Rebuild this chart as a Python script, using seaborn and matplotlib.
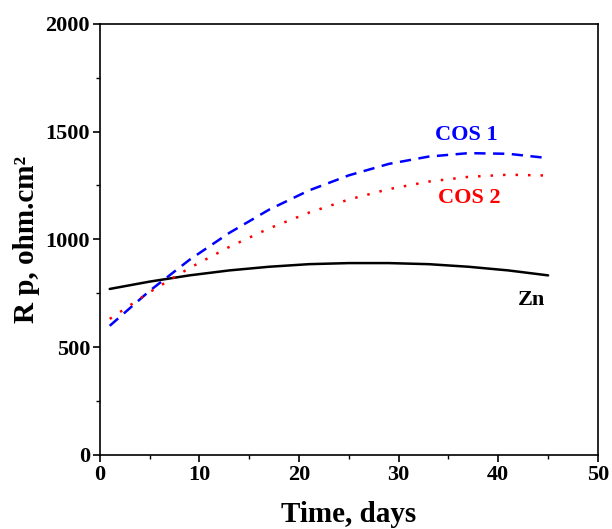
import matplotlib
matplotlib.use("Agg")
import matplotlib.pyplot as plt
import seaborn as sns
import pandas as pd
from matplotlib.ticker import MultipleLocator

# Data
days = [1, 5, 9, 13, 17, 21, 25, 29, 33, 37, 41, 45]
zn = [770, 804, 833, 856, 873, 885, 890, 890, 885, 873, 856, 833]
cos1 = [599, 761, 905, 1030, 1138, 1227, 1297, 1350, 1384, 1400, 1397, 1377]
cos2 = [631, 755, 867, 965, 1051, 1124, 1185, 1233, 1268, 1290, 1300, 1296]

x_ticks = [0, 10, 20, 30, 40, 50]
y_ticks = [0, 500, 1000, 1500, 2000]

sns.set_theme(style="ticks")
plt.rcParams['font.family'] = ['Liberation Serif', 'DejaVu Serif']
plt.rcParams['font.weight'] = 'bold'
plt.rcParams['text.color'] = 'black'
plt.rcParams['axes.labelcolor'] = 'black'

fig = plt.figure(figsize=(6.12, 5.29), dpi=100)
ax = fig.add_axes([0.163, 0.140, 0.814, 0.815])

df = pd.DataFrame({"day": days, "Zn": zn, "COS 1": cos1, "COS 2": cos2})

sns.lineplot(data=df, x="day", y="Zn", ax=ax, color="black", lw=1.8)
sns.lineplot(data=df, x="day", y="COS 1", ax=ax, color="#0000ff", lw=1.8,
             linestyle=(0, (4.5, 3)))
sns.lineplot(data=df, x="day", y="COS 2", ax=ax, color="#ff0000", lw=1.8,
             linestyle=(0, (1, 4)))

ax.set_xlim(0, 50)
ax.set_ylim(0, 2000)
ax.set_xticks(x_ticks)
ax.set_yticks(y_ticks)
ax.xaxis.set_minor_locator(MultipleLocator(5))
ax.yaxis.set_minor_locator(MultipleLocator(250))
ax.tick_params(axis='both', which='major', direction='out', length=5, width=1.2,
               labelsize=16, colors='black', pad=2)
ax.tick_params(axis='both', which='minor', direction='out', length=3, width=1.0,
               colors='black')
ax.tick_params(top=False, right=False)
for lab in ax.get_xticklabels() + ax.get_yticklabels():
    lab.set_fontweight('bold')
for s in ax.spines.values():
    s.set_visible(True)
    s.set_linewidth(1.2)
    s.set_color('black')

ax.set_xlabel("Time, days", fontsize=21, fontweight='bold', labelpad=12,
              color='black')
ax.set_ylabel("R p, ohm.cm²", fontsize=21, fontweight='bold', labelpad=4,
              color='black')

ax.text(36.8, 1485, "COS 1", color="#0000ff", fontsize=16, fontweight='bold',
        ha='center', va='center')
ax.text(37.1, 1193, "COS 2", color="#ff0000", fontsize=16, fontweight='bold',
        ha='center', va='center')
ax.text(43.3, 719, "Zn", color="black", fontsize=16, fontweight='bold',
        ha='center', va='center')

fig.savefig("out.png", dpi=100)
